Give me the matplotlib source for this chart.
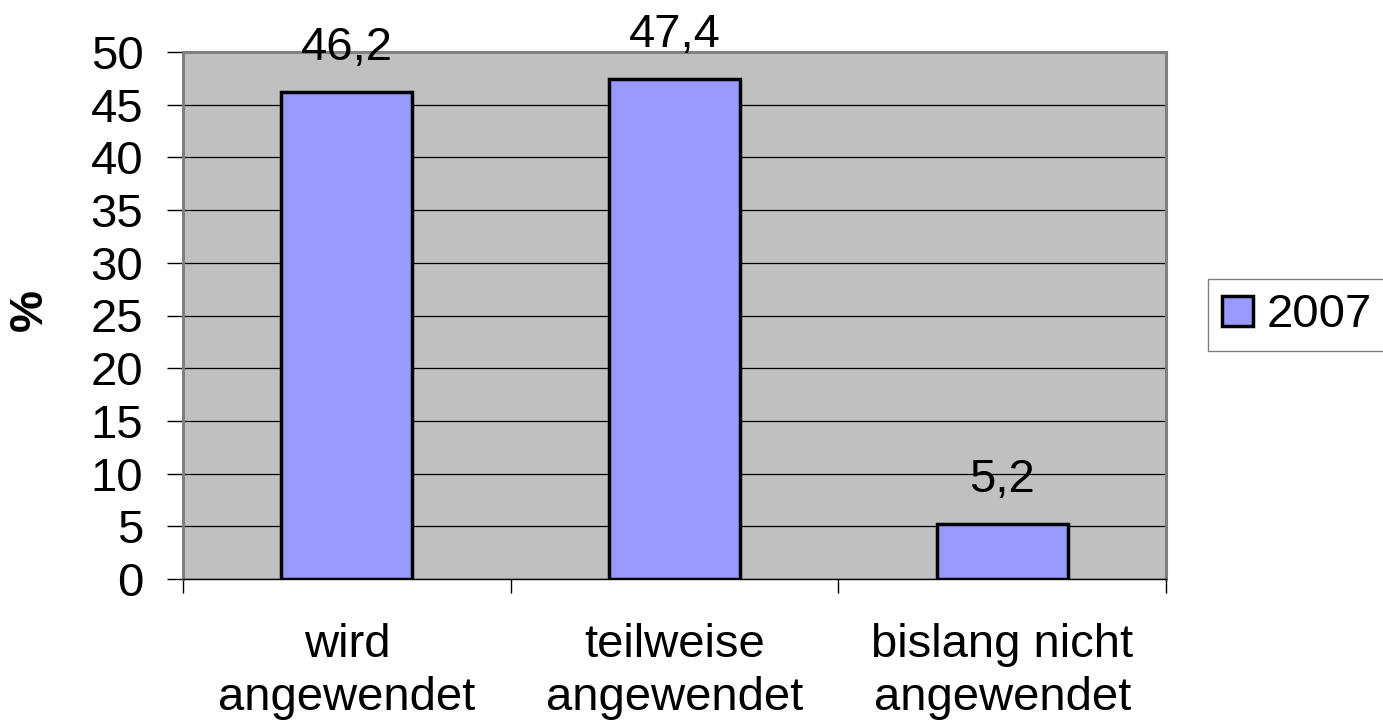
import matplotlib
matplotlib.use("Agg")
import matplotlib.pyplot as plt
from matplotlib.ticker import FixedLocator

categories = ["wird\nangewendet", "teilweise\nangewendet", "bislang nicht\nangewendet"]
values_2007 = [46.2, 47.4, 5.2]
series_name = "2007"
y_ticks = [0, 5, 10, 15, 20, 25, 30, 35, 40, 45, 50]
y_label = "%"

plt.rcParams['font.family'] = ['Liberation Sans', 'DejaVu Sans']
FS = 34

fig = plt.figure(figsize=(13.83, 7.24), dpi=100)
ax = fig.add_axes([183/1383, 1-579/724, (1166-183)/1383, (579-52)/724])
ax.set_facecolor('#C0C0C0')

x = list(range(len(categories)))
bars = ax.bar(x, values_2007, width=0.4, color='#9999FF', edgecolor='black',
              linewidth=2.5, label=series_name, zorder=3)

for xi, v in zip(x, values_2007):
    ax.annotate(f"{v:.1f}".replace('.', ','), xy=(xi, v), xytext=(0, 23),
                textcoords='offset points', ha='center', va='baseline',
                fontsize=FS, zorder=4)

ax.set_xlim(-0.5, len(categories) - 0.5)
ax.set_ylim(0, 50)
ax.set_yticks(y_ticks)
ax.set_yticklabels([str(t) for t in y_ticks], fontsize=FS)
ax.yaxis.grid(True, color='black', linewidth=0.9, zorder=1)
ax.set_axisbelow(True)

ax.set_xticks(x)
ax.set_xticklabels(categories, fontsize=FS, linespacing=1.25)
ax.xaxis.set_minor_locator(FixedLocator([i - 0.5 for i in range(len(categories) + 1)]))
ax.tick_params(axis='x', which='major', length=0, pad=32)
ax.tick_params(axis='x', which='minor', length=10, width=1, color='black', direction='out')
ax.tick_params(axis='y', which='major', length=11.5, width=1, color='black',
               direction='out', pad=17)

for side in ['left', 'top', 'right']:
    ax.spines[side].set_color('#808080')
    ax.spines[side].set_linewidth(2.2)
ax.spines['bottom'].set_color('black')
ax.spines['bottom'].set_linewidth(1)

fig.text(30/1383, 1-310/724, y_label, rotation=90, fontsize=FS, fontweight='bold',
         ha='center', va='center')

leg = fig.legend(handles=[bars], labels=[series_name], loc='upper left',
                 bbox_to_anchor=(1208/1383, 1-279/724), fontsize=FS,
                 frameon=True, fancybox=False, edgecolor='#606060',
                 handlelength=0.65, handleheight=0.6, handletextpad=0.3,
                 borderpad=0.3, borderaxespad=0)
leg.get_frame().set_linewidth(1)

fig.savefig('out.png', dpi=100)
